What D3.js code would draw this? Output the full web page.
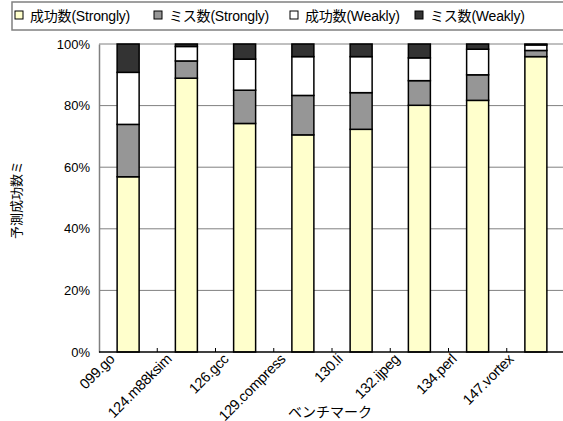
<!DOCTYPE html>
<meta charset="utf-8">
<style>
body { margin: 0; background: #fff; }
svg { display: block; font-family: "Liberation Sans", Arial, "Noto Sans CJK JP", sans-serif; }
.grid line { stroke: #808080; stroke-width: 1px; }
.bar { stroke: #000; stroke-width: 1.5px; }
</style>
<body>
<script src="https://d3js.org/d3.v7.min.js"></script>
<script>

// data (percent of predictions)
var benchmarks = ["099.go", "124.m88ksim", "126.gcc", "129.compress", "130.li", "132.ijpeg", "134.perl", "147.vortex"];
var seriesNames = ["成功数(Strongly)", "ミス数(Strongly)", "成功数(Weakly)", "ミス数(Weakly)"];
var hitStrong  = [56.9, 88.9, 74.2, 70.5, 72.3, 80.1, 81.7, 95.9];
var missStrong = [17.0,  5.6, 10.8, 12.8, 11.9,  8.0,  8.3,  2.0];
var hitWeak    = [16.9,  4.7, 10.1, 12.6, 11.7,  7.4,  8.3,  1.8];
var missWeak   = [ 9.2,  0.8,  4.9,  4.1,  4.1,  4.5,  1.7,  0.3];
var yTicks = [0, 20, 40, 60, 80, 100];
var colors = ["#FFFFCC", "#969696", "#FFFFFF", "#333333"];

var W = 563, H = 421;
var plotLeft = 99, plotRight = 565, plotTop = 44, plotBottom = 352;

var svg = d3.select("body").append("svg")
    .attr("width", W)
    .attr("height", H);

var x = d3.scaleBand().domain(benchmarks).range([plotLeft, plotRight]);
// the category labels sit on a slightly tighter spacing than the bars
var xLabel = d3.scaleBand().domain(benchmarks).range([plotLeft, plotRight - 10]);
var y = d3.scaleLinear().domain([0, 100]).range([plotBottom, plotTop]);

// build stacked rows
var rows = benchmarks.map(function(b, i) {
  return { name: b, s0: hitStrong[i], s1: missStrong[i], s2: hitWeak[i], s3: missWeak[i] };
});
var layers = d3.stack().keys(["s0", "s1", "s2", "s3"])(rows);

// gridlines
svg.append("g")
    .attr("class", "grid")
    .selectAll("line")
    .data(yTicks.filter(function(d) { return d > 0; }))
  .enter().append("line")
    .attr("x1", plotLeft).attr("x2", plotRight)
    .attr("y1", function(d) { return y(d); })
    .attr("y2", function(d) { return y(d); });

// bars
var barW = 22;
svg.append("g").selectAll("g")
    .data(layers)
  .enter().append("g")
    .attr("fill", function(d, i) { return colors[i]; })
  .selectAll("rect")
    .data(function(d) { return d; })
  .enter().append("rect")
    .attr("class", "bar")
    .attr("x", function(d) { return x(d.data.name) + x.bandwidth() / 2 - barW / 2; })
    .attr("width", barW)
    .attr("y", function(d) { return y(d[1]); })
    .attr("height", function(d) { return y(d[0]) - y(d[1]); });

// y axis
var yAxis = svg.append("g")
    .attr("transform", "translate(" + plotLeft + ",0)")
    .call(d3.axisLeft(y).tickValues(yTicks).tickSize(0).tickPadding(9)
      .tickFormat(function(d) { return d + "%"; }));
yAxis.select(".domain").attr("stroke", "#808080").attr("stroke-width", 1.5);
yAxis.selectAll("text").attr("font-size", 13).attr("fill", "#000")
    .attr("font-family", "'Liberation Sans', Arial, sans-serif");

// x axis: ticks at band boundaries pointing inward
svg.append("line")
    .attr("x1", plotLeft).attr("x2", plotRight)
    .attr("y1", plotBottom).attr("y2", plotBottom)
    .attr("stroke", "#000").attr("stroke-width", 1.5);
svg.append("g").selectAll("line")
    .data(benchmarks.slice(1))
  .enter().append("line")
    .attr("x1", function(d) { return x(d); })
    .attr("x2", function(d) { return x(d); })
    .attr("y1", plotBottom).attr("y2", plotBottom - 4)
    .attr("stroke", "#000");

svg.append("g").selectAll("text")
    .data(benchmarks)
  .enter().append("text")
    .attr("text-anchor", "end")
    .attr("font-size", 14.5)
    .attr("letter-spacing", -0.3)
    .attr("transform", function(d) {
      return "translate(" + (xLabel(d) + xLabel.bandwidth() / 2 - 12) + "," + (plotBottom + 8) + ") rotate(-45)";
    })
    .text(function(d) { return d; });

// axis titles
svg.append("text")
    .attr("x", (plotLeft + plotRight) / 2 - 2)
    .attr("y", 417)
    .attr("text-anchor", "middle")
    .attr("font-size", 14)
    .attr("font-family", "'Noto Sans CJK JP', sans-serif")
    .text("ベンチマーク");

svg.append("text")
    .attr("transform", "translate(21,200) rotate(-90)")
    .attr("text-anchor", "middle")
    .attr("font-size", 13)
    .attr("font-family", "'Noto Sans CJK JP', sans-serif")
    .text("予測成功数ミ");

// legend
var legend = svg.append("g");
legend.append("rect")
    .attr("x", 12).attr("y", 2)
    .attr("width", 560).attr("height", 28)
    .attr("fill", "#fff")
    .attr("stroke", "#808080")
    .attr("stroke-width", 1.5);

var legendX = [15, 154, 290, 415];
var item = legend.selectAll("g.item")
    .data(seriesNames)
  .enter().append("g")
    .attr("class", "item")
    .attr("transform", function(d, i) { return "translate(" + legendX[i] + ",0)"; });
item.append("rect")
    .attr("x", 0).attr("y", 11)
    .attr("width", 8).attr("height", 8)
    .attr("fill", function(d, i) { return colors[i]; })
    .attr("stroke", "#000");
item.append("text")
    .attr("x", 15).attr("y", 21)
    .attr("font-size", 14)
    .attr("letter-spacing", -0.2)
    .text(function(d) { return d; });

</script>
</body>
